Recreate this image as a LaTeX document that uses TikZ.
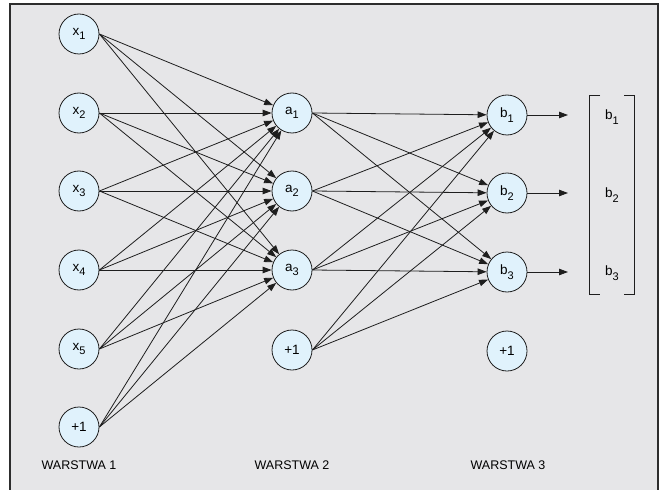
\documentclass[tikz,border=0pt]{standalone}
\usepackage{fontspec}
\setmainfont{Liberation Sans}
\usetikzlibrary{arrows.meta}
\definecolor{panel}{RGB}{230,230,232}
\definecolor{framegray}{RGB}{45,45,45}
\definecolor{neuron}{RGB}{224,242,252}
\definecolor{ink}{RGB}{30,30,30}
\newcommand\withsub[2]{#1\raisebox{-4.5pt}{\fontsize{11}{12}\selectfont #2}}
\tikzset{
  unit/.style={circle, draw=ink, fill=neuron, line width=0.8pt, minimum size=40pt,
    inner sep=0pt, font=\fontsize{13.5}{14}\selectfont},
  wire/.style={draw=ink, line width=0.8pt, -{Triangle[length=9pt,width=6.5pt]}},
  caption/.style={font=\fontsize{12.5}{13}\selectfont, inner sep=0pt},
  outlabel/.style={font=\fontsize{13.5}{14}\selectfont, inner sep=1pt},
  bracketline/.style={draw=ink, line width=0.9pt}
}
\begin{document}
\begin{tikzpicture}[x=1pt, y=-1pt]
\useasboundingbox (0,0) rectangle (660,489);
% panel
\draw[fill=panel, draw=framegray, line width=1.3pt] (10,4) rectangle (658,495);

% input layer
\node[unit] (x1) at (79,34)  {\withsub{x}{1}};
\node[unit] (x2) at (79,113) {\withsub{x}{2}};
\node[unit] (x3) at (79,191) {\withsub{x}{3}};
\node[unit] (x4) at (79,270) {\withsub{x}{4}};
\node[unit] (x5) at (79,349) {\withsub{x}{5}};
\node[unit] (x6) at (79,427) {+1};

% hidden layer
\node[unit] (a1) at (292,113) {\withsub{a}{1}};
\node[unit] (a2) at (292,191) {\withsub{a}{2}};
\node[unit] (a3) at (292,270) {\withsub{a}{3}};
\node[unit] (a4) at (292,350) {+1};

% output layer
\node[unit] (b1) at (507,115) {\withsub{b}{1}};
\node[unit] (b2) at (507,193) {\withsub{b}{2}};
\node[unit] (b3) at (507,272) {\withsub{b}{3}};
\node[unit] (b4) at (507,351) {+1};

% connections input -> hidden
\foreach \i in {1,...,6}
  \foreach \j in {1,2,3}
    \draw[wire] (x\i.east) -- (a\j);

% connections hidden -> output
\foreach \i in {1,...,4}
  \foreach \j in {1,2,3}
    \draw[wire] (a\i.east) -- (b\j);

% output vector
\coordinate (e1) at (568,115);
\coordinate (e2) at (568,193);
\coordinate (e3) at (568,272);
\foreach \j in {1,2,3}
  \draw[wire] (b\j.east) -- (e\j);

\draw[bracketline] (600,95) -- (589,95) -- (589,294) -- (600,294);
\draw[bracketline] (624,95) -- (634,95) -- (634,294) -- (624,294);
\node[outlabel] (o1) at (612,117) {\withsub{b}{1}};
\node[outlabel] (o2) at (612,195) {\withsub{b}{2}};
\node[outlabel] (o3) at (612,273) {\withsub{b}{3}};

% layer captions
\node[caption] (w1) at (79,465)  {WARSTWA 1};
\node[caption] (w2) at (292,465) {WARSTWA 2};
\node[caption] (w3) at (508,465) {WARSTWA 3};
\end{tikzpicture}
\end{document}
